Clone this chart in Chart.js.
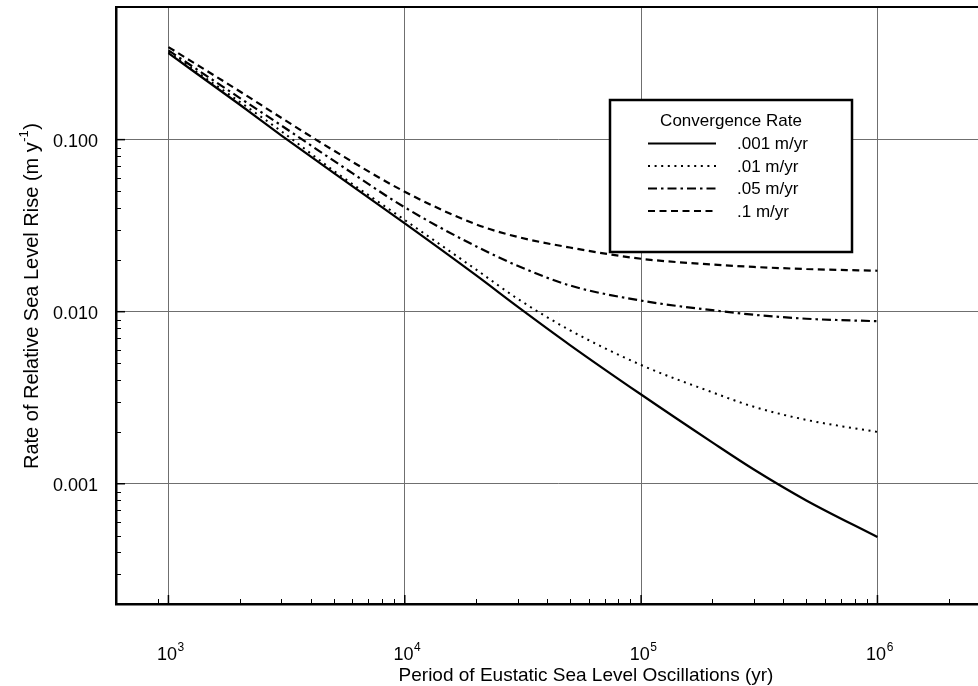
<!DOCTYPE html>
<html><head><meta charset="utf-8">
<script src="https://cdn.jsdelivr.net/npm/chart.js@4/dist/chart.umd.min.js"></script>
<style>html,body{margin:0;padding:0;background:#fff;overflow:hidden;width:978px;height:686px}canvas{display:block}</style>
</head><body>
<canvas id="c" width="1010" height="686"></canvas>
<script>
// ---- data ----
const periods = [1e3, 2e3, 3e3, 5e3, 1e4, 2e4, 3e4, 5e4, 1e5, 2e5, 3e5, 5e5, 1e6];
const rate001 = [0.318, 0.160, 0.106, 0.064, 0.0326, 0.0163, 0.0107, 0.0064, 0.0033, 0.00174, 0.00121, 0.00080, 0.00049];
const rate01  = [0.322, 0.166, 0.112, 0.066, 0.0341, 0.0176, 0.0119, 0.0078, 0.0049, 0.0034, 0.0028, 0.00235, 0.0020];
const rate05  = [0.330, 0.175, 0.121, 0.0755, 0.0404, 0.0240, 0.0185, 0.0142, 0.0116, 0.0102, 0.0096, 0.0091, 0.0088];
const rate1   = [0.345, 0.191, 0.134, 0.0865, 0.0498, 0.0322, 0.0272, 0.0236, 0.0203, 0.0188, 0.0182, 0.0177, 0.0173];
const seriesLabels = ['.001 m/yr', '.01 m/yr', '.05 m/yr', '.1 m/yr'];
const xMajorTicks = [1e3, 1e4, 1e5, 1e6];
const xTickBase = '10';
const xTickExponents = ['3', '4', '5', '6'];
const yMajorTicks = [0.001, 0.01, 0.1];
const yTickLabels = ['0.001', '0.010', '0.100'];
const legendTitle = 'Convergence Rate';
const xTitle = 'Period of Eustatic Sea Level Oscillations (yr)';
const yTitleMain = 'Rate of Relative Sea Level Rise (m y';
const yTitleSup = '-1';
const yTitleEnd = ')';

const FONT = '"Liberation Sans", Arial, Helvetica, sans-serif';
const series = [rate001, rate01, rate05, rate1];
const styles = [
  { dash: [], width: 2.2 },
  { dash: [2, 4.6], width: 2 },
  { dash: [9, 4, 2.5, 4], width: 2.2 },
  { dash: [7, 4.5], width: 2.2 }
];

function minorValues(lo, hi, nFrom, nTo) {
  const out = [];
  for (let n = nFrom; n <= nTo; n++) for (let k = 2; k <= 9; k++) {
    const v = k * Math.pow(10, n);
    if (v >= lo && v <= hi) out.push(v);
  }
  return out;
}

const decor = {
  id: 'decor',
  afterDraw(chart) {
    const ctx = chart.ctx, a = chart.chartArea;
    const xs = chart.scales.x, ys = chart.scales.y;
    ctx.save();
    ctx.strokeStyle = '#000'; ctx.lineWidth = 2;
    ctx.beginPath(); ctx.moveTo(a.left - 1, a.top); ctx.lineTo(a.right + 20, a.top); ctx.stroke();
    ctx.lineWidth = 1;
    minorValues(850, xs.max, 2, 6).forEach(v => {
      const px = Math.round(xs.getPixelForValue(v)) + 0.5;
      ctx.beginPath(); ctx.moveTo(px, a.bottom); ctx.lineTo(px, a.bottom - 5); ctx.stroke();
    });
    minorValues(ys.min, 0.095, -4, -2).forEach(v => {
      const py = Math.round(ys.getPixelForValue(v)) + 0.5;
      ctx.beginPath(); ctx.moveTo(a.left, py); ctx.lineTo(a.left + 5, py); ctx.stroke();
    });
    ctx.lineWidth = 1.5;
    xMajorTicks.forEach(v => {
      const px = xs.getPixelForValue(v);
      ctx.beginPath(); ctx.moveTo(px, a.bottom); ctx.lineTo(px, a.bottom - 9); ctx.stroke();
    });
    yMajorTicks.forEach(v => {
      const py = ys.getPixelForValue(v);
      ctx.beginPath(); ctx.moveTo(a.left, py); ctx.lineTo(a.left + 9, py); ctx.stroke();
    });
    ctx.fillStyle = '#000';
    xMajorTicks.forEach((v, i) => {
      const px = xs.getPixelForValue(v);
      ctx.font = '18px ' + FONT;
      const w1 = ctx.measureText(xTickBase).width;
      ctx.font = '12px ' + FONT;
      const w2 = ctx.measureText(xTickExponents[i]).width;
      const x0 = px - (w1 + w2) / 2 + 2;
      ctx.textBaseline = 'alphabetic'; ctx.textAlign = 'left';
      ctx.font = '18px ' + FONT;
      ctx.fillText(xTickBase, x0, 660);
      ctx.font = '12px ' + FONT;
      ctx.fillText(xTickExponents[i], x0 + w1 + 0.5, 651);
    });
    ctx.font = '18px ' + FONT; ctx.textAlign = 'right'; ctx.textBaseline = 'middle';
    yMajorTicks.forEach((v, i) => {
      ctx.fillText(yTickLabels[i], 98, ys.getPixelForValue(v) + 2);
    });
    ctx.textAlign = 'center'; ctx.textBaseline = 'middle'; ctx.font = '19px ' + FONT;
    ctx.fillText(xTitle, 586, 676);
    ctx.save();
    ctx.translate(31, 296); ctx.rotate(-Math.PI / 2);
    ctx.font = '20px ' + FONT; const wa = ctx.measureText(yTitleMain).width;
    const wc = ctx.measureText(yTitleEnd).width;
    ctx.font = '13px ' + FONT; const wb = ctx.measureText(yTitleSup).width;
    let tx = -(wa + wb + wc + 1) / 2;
    ctx.textAlign = 'left'; ctx.textBaseline = 'alphabetic';
    ctx.font = '20px ' + FONT; ctx.fillText(yTitleMain, tx, 7);
    ctx.font = '13px ' + FONT; ctx.fillText(yTitleSup, tx + wa + 0.5, -3);
    ctx.font = '20px ' + FONT; ctx.fillText(yTitleEnd, tx + wa + wb + 1, 7);
    ctx.restore();
    const L = { x: 610, y: 100, w: 242, h: 152 };
    ctx.fillStyle = '#fff'; ctx.fillRect(L.x, L.y, L.w, L.h);
    ctx.strokeStyle = '#000'; ctx.lineWidth = 2.5; ctx.setLineDash([]);
    ctx.strokeRect(L.x, L.y, L.w, L.h);
    ctx.fillStyle = '#000'; ctx.font = '17px ' + FONT; ctx.textAlign = 'center'; ctx.textBaseline = 'middle';
    ctx.fillText(legendTitle, L.x + 121, L.y + 21);
    ctx.textAlign = 'left';
    chart.data.datasets.forEach((ds, i) => {
      const yy = L.y + 43.5 + i * 22.5;
      ctx.strokeStyle = '#000'; ctx.lineWidth = ds.borderWidth; ctx.setLineDash(ds.borderDash || []);
      ctx.beginPath(); ctx.moveTo(648, yy); ctx.lineTo(716, yy); ctx.stroke();
      ctx.setLineDash([]);
      ctx.fillText(ds.label, 737, yy + 1);
    });
    ctx.restore();
  }
};

new Chart(document.getElementById('c'), {
  type: 'line',
  data: {
    datasets: series.map((s, i) => ({
      label: seriesLabels[i],
      data: periods.map((p, j) => ({ x: p, y: s[j] })),
      borderColor: '#000',
      borderWidth: styles[i].width,
      borderDash: styles[i].dash,
      borderCapStyle: 'butt',
      pointRadius: 0,
      fill: false,
      cubicInterpolationMode: 'monotone'
    }))
  },
  options: {
    responsive: false,
    animation: false,
    devicePixelRatio: 1,
    layout: { padding: { left: 116, right: 10, top: 7, bottom: 82 } },
    plugins: { legend: { display: false }, tooltip: { enabled: false } },
    scales: {
      x: {
        type: 'logarithmic', min: 600, max: 3.3e6,
        afterBuildTicks: s => { s.ticks = xMajorTicks.map(v => ({ value: v })); },
        ticks: { display: false },
        grid: { color: '#6f6f6f', lineWidth: 1, drawTicks: false },
        border: { display: true, color: '#000', width: 2.5 }
      },
      y: {
        type: 'logarithmic', min: 0.0002, max: 0.59,
        afterBuildTicks: s => { s.ticks = yMajorTicks.map(v => ({ value: v })); },
        ticks: { display: false },
        grid: { color: '#6f6f6f', lineWidth: 1, drawTicks: false },
        border: { display: true, color: '#000', width: 2.5 }
      }
    }
  },
  plugins: [decor]
});
</script>
</body></html>
